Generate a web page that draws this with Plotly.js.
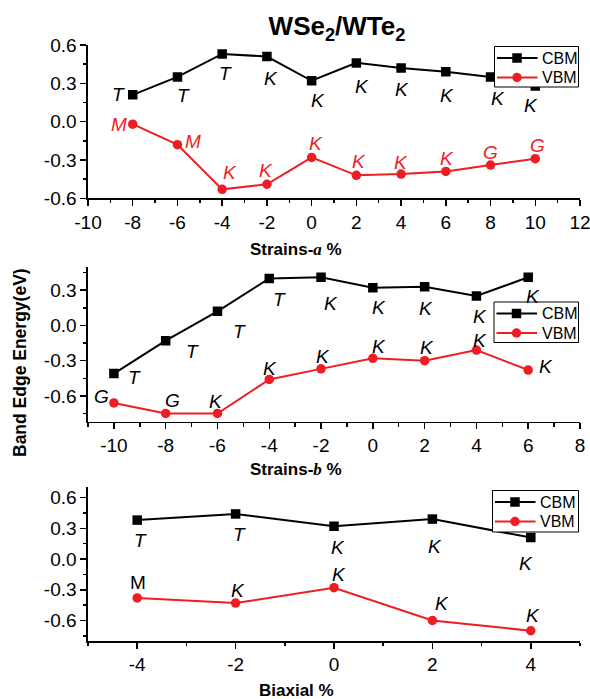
<!DOCTYPE html>
<html><head><meta charset="utf-8">
<script src="https://cdn.plot.ly/plotly-3.0.1.min.js"></script>
<style>html,body{margin:0;padding:0;background:#fff}#chart{width:590px;height:699px}</style>
</head><body><div id="chart"></div>
<script>
// ---------------- data ----------------
const strainA = [-8, -6, -4, -2, 0, 2, 4, 6, 8, 10];
const cbmA = [0.21, 0.35, 0.53, 0.51, 0.32, 0.46, 0.42, 0.39, 0.35, 0.28];
const vbmA = [-0.02, -0.18, -0.53, -0.49, -0.28, -0.42, -0.41, -0.39, -0.34, -0.29];
const cbmAPoints = ['T', 'T', 'T', 'K', 'K', 'K', 'K', 'K', 'K', 'K'];
const vbmAPoints = ['M', 'M', 'K', 'K', 'K', 'K', 'K', 'K', 'G', 'G'];

const strainB = [-10, -8, -6, -4, -2, 0, 2, 4, 6];
const cbmB = [-0.41, -0.13, 0.12, 0.40, 0.41, 0.32, 0.33, 0.25, 0.41];
const vbmB = [-0.66, -0.75, -0.75, -0.46, -0.37, -0.28, -0.30, -0.21, -0.38];
const cbmBPoints = ['T', 'T', 'T', 'T', 'K', 'K', 'K', 'K', 'K'];
const vbmBPoints = ['G', 'G', 'K', 'K', 'K', 'K', 'K', 'K', 'K'];

const biaxial = [-4, -2, 0, 2, 4];
const cbmC = [0.38, 0.44, 0.32, 0.39, 0.21];
const vbmC = [-0.38, -0.43, -0.28, -0.60, -0.70];
const cbmCPoints = ['T', 'T', 'K', 'K', 'K'];
const vbmCPoints = ['M', 'K', 'K', 'K', 'K'];

const seriesNames = ['CBM', 'VBM'];

const yTickVals = [-0.6, -0.3, 0, 0.3, 0.6];
const yTickText = ['-0.6', '-0.3', '0.0', '0.3', '0.6'];
const xTickValsA = [-10, -8, -6, -4, -2, 0, 2, 4, 6, 8, 10, 12];
const xTickTextA = ['-10', '-8', '-6', '-4', '-2', '0', '2', '4', '6', '8', '10', '12'];
const xTickValsB = [-10, -8, -6, -4, -2, 0, 2, 4, 6, 8];
const xTickTextB = ['-10', '-8', '-6', '-4', '-2', '0', '2', '4', '6', '8'];
const xTickValsC = [-4, -2, 0, 2, 4];
const xTickTextC = ['-4', '-2', '0', '2', '4'];

const chartTitle = 'WSe<sub>2</sub>/WTe<sub>2</sub>';
const xTitleA = 'Strains-<i><span style="font-family:Liberation Serif">a</span></i> %';
const xTitleB = 'Strains-<i><span style="font-family:Liberation Serif">b</span></i> %';
const xTitleC = 'Biaxial %';
const yTitle = 'Band Edge Energy(eV)';

// ---------------- styling ----------------
const FONT = 'Arial, "Liberation Sans", sans-serif';
const BLACK = '#000000';
const RED = '#ee1d24';
const W = 590, H = 699;
const px = v => v / W;
const py = v => 1 - v / H;
const MSIZE = 9.5;

// label pixel offsets [dx, dy(up)] relative to their point
const offCbmA = [[-14,0],[6,-19],[3,-20],[4,-22],[6,-20],[6,-24],[1,-22],[1,-24],[7,-22],[-4,-20]];
const offVbmA = [[-14,0],[16,3],[8,17],[-1,14],[4,14],[3,14],[0,12],[1,13],[0,13],[2,13]];
const offCbmB = [[21,-4],[27,-11],[22,-20],[10,-21],[10,-26],[6,-20],[1,-22],[4,-20],[5,-19]];
const offVbmB = [[-12,6],[7,13],[-1,12],[1,11],[2,12],[6,12],[2,13],[4,10],[18,4]];
const offCbmC = [[3,-20],[4,-21],[4,-21],[3,-27],[-5,-26]];
const offVbmC = [[1,15],[2,13],[5,13],[10,17],[2,15]];

function series(x, y, name, color, symbol, xa, ya) {
  return {
    type: 'scatter', mode: 'lines+markers', x: x, y: y, name: name,
    line: { color: color, width: 2 },
    marker: { symbol: symbol, size: MSIZE, color: color, line: { width: 0 } },
    xaxis: xa, yaxis: ya, showlegend: false, hoverinfo: 'skip'
  };
}

const data = [
  series(strainA, cbmA, seriesNames[0], BLACK, 'square', 'x', 'y'),
  series(strainA, vbmA, seriesNames[1], RED, 'circle', 'x', 'y'),
  series(strainB, cbmB, seriesNames[0], BLACK, 'square', 'x2', 'y2'),
  series(strainB, vbmB, seriesNames[1], RED, 'circle', 'x2', 'y2'),
  series(biaxial, cbmC, seriesNames[0], BLACK, 'square', 'x3', 'y3'),
  series(biaxial, vbmC, seriesNames[1], RED, 'circle', 'x3', 'y3')
];

const xDom = [px(88), px(580)];
const common = {
  showgrid: false, zeroline: false, showline: true, linecolor: BLACK, linewidth: 1.6,
  automargin: false, fixedrange: true
};
const TICKFONT = { family: FONT, size: 19, color: BLACK };
function bottomX(domainAnchor, range, vals, text) {
  return Object.assign({}, common, {
    domain: xDom, anchor: domainAnchor, range: range,
    tickmode: 'array', tickvals: vals, ticktext: text,
    ticks: 'outside', ticklen: 6, tickwidth: 1.5, tickcolor: BLACK,
    minor: { tickmode: 'linear', tick0: 0, dtick: 1, ticks: 'outside', ticklen: 3.5, tickwidth: 1.5, tickcolor: BLACK },
    tickfont: TICKFONT, ticklabeloverflow: 'allow'
  });
}
function leftY(anchor, domain, range) {
  return Object.assign({}, common, {
    domain: domain, anchor: anchor, range: range,
    tickmode: 'array', tickvals: yTickVals, ticktext: yTickText,
    ticks: 'outside', ticklen: 6, tickwidth: 1.5, tickcolor: BLACK,
    minor: { tickmode: 'linear', tick0: 0, dtick: 0.15, ticks: 'outside', ticklen: 3.5, tickwidth: 1.5, tickcolor: BLACK },
    tickfont: TICKFONT, ticklabeloverflow: 'allow'
  });
}
function topX(over, anchor, range) {
  return Object.assign({}, common, {
    overlaying: over, anchor: anchor, side: 'top', range: range,
    tickmode: 'linear', tick0: 0, dtick: 1, ticks: 'inside', ticklen: 3.5, tickwidth: 1.5, tickcolor: BLACK,
    showticklabels: false
  });
}
function rightY(over, anchor, range) {
  return Object.assign({}, common, {
    overlaying: over, anchor: anchor, side: 'right', range: range,
    tickmode: 'linear', tick0: 0, dtick: 0.15, ticks: 'inside', ticklen: 3.5, tickwidth: 1.5, tickcolor: BLACK,
    showticklabels: false
  });
}

const rA = { x: [-10, 12], y: [-0.6, 0.6] };
const rB = { x: [-11, 8], y: [-0.82, 0.5] };
const rC = { x: [-5, 5], y: [-0.8, 0.7] };

function labelAnns(xs, ys, labels, offs, xa, ya, color, uprightIdx) {
  return xs.map((x, i) => ({
    x: x, y: ys[i], xref: xa, yref: ya, text: labels[i], showarrow: false,
    xanchor: 'center', yanchor: 'middle', xshift: offs[i][0], yshift: offs[i][1],
    font: { family: FONT, size: 19, color: color, style: (uprightIdx && uprightIdx.indexOf(i) >= 0) ? 'normal' : 'italic' }
  }));
}

// ---- boxed legends (drawn in pixel positions on the paper) ----
const legendShapes = [];
const legendAnns = [];
function boxLegend(x0, x1, y0, y1) {
  legendShapes.push({ type: 'rect', xref: 'paper', yref: 'paper', layer: 'above',
    x0: px(x0), x1: px(x1), y0: py(y1), y1: py(y0), line: { color: BLACK, width: 1 }, fillcolor: '#ffffff' });
  const rows = [{ y: y0 + 11.5, color: BLACK, sym: 'rect' }, { y: y0 + 31, color: RED, sym: 'circle' }];
  rows.forEach((r, i) => {
    legendShapes.push({ type: 'line', xref: 'paper', yref: 'paper', layer: 'above',
      x0: px(x0 + 2.5), x1: px(x0 + 43), y0: py(r.y), y1: py(r.y), line: { color: r.color, width: 2 } });
    const h = MSIZE / 2;
    legendShapes.push({ type: r.sym, xref: 'paper', yref: 'paper', layer: 'above',
      x0: px(x0 + 22.5 - h), x1: px(x0 + 22.5 + h), y0: py(r.y + h), y1: py(r.y - h),
      line: { width: 0 }, fillcolor: r.color });
    legendAnns.push({ xref: 'paper', yref: 'paper', x: px(x0 + 45.5), y: py(r.y), text: seriesNames[i],
      showarrow: false, xanchor: 'left', yanchor: 'middle', font: { family: FONT, size: 16, color: BLACK } });
  });
}
boxLegend(494.5, 578.5, 46.5, 87);
boxLegend(494, 578.5, 302, 342.5);
boxLegend(492.5, 578.5, 490.5, 532);

const titleFont = { family: FONT, size: 17, color: BLACK };
const annotations = [].concat(
  labelAnns(strainA, cbmA, cbmAPoints, offCbmA, 'x', 'y', BLACK),
  labelAnns(strainA, vbmA, vbmAPoints, offVbmA, 'x', 'y', RED),
  labelAnns(strainB, cbmB, cbmBPoints, offCbmB, 'x2', 'y2', BLACK),
  labelAnns(strainB, vbmB, vbmBPoints, offVbmB, 'x2', 'y2', BLACK),
  labelAnns(biaxial, cbmC, cbmCPoints, offCbmC, 'x3', 'y3', BLACK),
  labelAnns(biaxial, vbmC, vbmCPoints, offVbmC, 'x3', 'y3', BLACK, [0]),
  legendAnns,
  [
    { xref: 'paper', yref: 'paper', x: px(296), y: py(249), text: '<b>' + xTitleA + '</b>', showarrow: false, xanchor: 'center', yanchor: 'middle', font: titleFont },
    { xref: 'paper', yref: 'paper', x: px(296), y: py(469), text: '<b>' + xTitleB + '</b>', showarrow: false, xanchor: 'center', yanchor: 'middle', font: titleFont },
    { xref: 'paper', yref: 'paper', x: px(296), y: py(690), text: '<b>' + xTitleC + '</b>', showarrow: false, xanchor: 'center', yanchor: 'middle', font: titleFont },
    { xref: 'paper', yref: 'paper', x: px(20), y: py(363), text: '<b>' + yTitle + '</b>', textangle: -90, showarrow: false, xanchor: 'center', yanchor: 'middle', font: { family: FONT, size: 17.5, color: BLACK } }
  ]
);

const layout = {
  width: W, height: H,
  margin: { l: 0, r: 0, t: 0, b: 0 },
  paper_bgcolor: '#ffffff', plot_bgcolor: '#ffffff',
  font: { family: FONT, color: BLACK },
  title: { text: '<b>' + chartTitle + '</b>', x: px(337), xanchor: 'center', xref: 'paper', y: py(26), yref: 'container', yanchor: 'middle', font: { family: FONT, size: 26, color: BLACK }, automargin: false },
  showlegend: false,
  xaxis: bottomX('y', rA.x, xTickValsA, xTickTextA),
  yaxis: leftY('x', [py(198.3), py(45)], rA.y),
  xaxis2: bottomX('y2', rB.x, xTickValsB, xTickTextB),
  yaxis2: leftY('x2', [py(421.7), py(266.7)], rB.y),
  xaxis3: bottomX('y3', rC.x, xTickValsC, xTickTextC),
  yaxis3: leftY('x3', [py(641), py(487.3)], rC.y),
  xaxis4: topX('x', 'y', rA.x),
  yaxis4: rightY('y', 'x', rA.y),
  xaxis5: topX('x2', 'y2', rB.x),
  yaxis5: rightY('y2', 'x2', rB.y),
  xaxis6: topX('x3', 'y3', rC.x),
  yaxis6: rightY('y3', 'x3', rC.y),
  shapes: legendShapes,
  annotations: annotations
};

Plotly.newPlot('chart', data, layout, { displayModeBar: false, staticPlot: true });
</script>
</body></html>
